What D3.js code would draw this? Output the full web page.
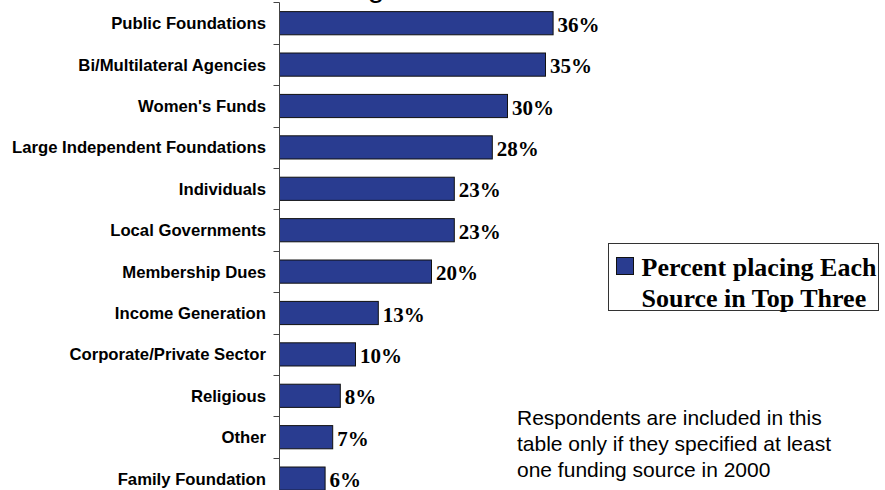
<!DOCTYPE html>
<html>
<head>
<meta charset="utf-8">
<script src="https://cdn.jsdelivr.net/npm/d3@7"></script>
<style>
  html, body { margin: 0; padding: 0; background: #ffffff; }
  svg { display: block; }
</style>
</head>
<body>
<svg id="chart" width="885" height="490"></svg>
<script>
// Funding sources, in ranked order
const categories = [
  "Public Foundations",
  "Bi/Multilateral Agencies",
  "Women's Funds",
  "Large Independent Foundations",
  "Individuals",
  "Local Governments",
  "Membership Dues",
  "Income Generation",
  "Corporate/Private Sector",
  "Religious",
  "Other",
  "Family Foundation"
];
// Percent of respondents placing each source in their top three
const values = [36, 35, 30, 28, 23, 23, 20, 13, 10, 8, 7, 6];
const seriesName = ["Percent placing Each", "Source in Top Three"];
const titleText = "Funding Sources";
const noteLines = [
  "Respondents are included in this",
  "table only if they specified at least",
  "one funding source in 2000"
];

const svg = d3.select("#chart");
const sans = "'Liberation Sans', Arial, Helvetica, sans-serif";
const serif = "'Liberation Serif', 'Times New Roman', Times, serif";
const barFill = "#293c90";

// Scales
const axisX = 279.5;
const x = d3.scaleLinear().domain([0, 100]).range([axisX, axisX + 760]);
const y = d3.scaleBand()
  .domain(categories)
  .range([2.5, 2.5 + 12 * 41.4])
  .paddingInner(0.44)
  .paddingOuter(0.22);
const gap = (y.step() - y.bandwidth()) / 2;

// Title (sits mostly above the visible area)
svg.append("text")
  .attr("x", 276)
  .attr("y", -3)
  .attr("font-family", sans)
  .attr("font-size", 30)
  .attr("fill", "#000")
  .text(titleText);

// Bars
svg.append("g").selectAll("rect")
  .data(categories)
  .join("rect")
  .attr("x", x(0))
  .attr("y", d => y(d))
  .attr("width", (d, i) => x(values[i]) - x(0))
  .attr("height", y.bandwidth())
  .attr("fill", barFill)
  .attr("stroke", "#111")
  .attr("stroke-width", 1);

// Value labels
svg.append("g").selectAll("text")
  .data(categories)
  .join("text")
  .attr("x", (d, i) => x(values[i]) + 4.5)
  .attr("y", d => y(d) + y.bandwidth() / 2 + 8.5)
  .attr("font-family", serif)
  .attr("font-weight", "bold")
  .attr("font-size", 21)
  .attr("fill", "#000")
  .text((d, i) => values[i] + "%");

// Category axis: vertical line with ticks between bands
const axis = svg.append("g").attr("stroke", "#444").attr("stroke-width", 1);
axis.append("line")
  .attr("x1", axisX).attr("x2", axisX)
  .attr("y1", y(categories[0]) - gap)
  .attr("y2", y(categories[categories.length - 1]) + y.bandwidth() + gap);
axis.selectAll("line.tick")
  .data(categories)
  .join("line")
  .attr("class", "tick")
  .attr("x1", axisX - 6).attr("x2", axisX)
  .attr("y1", d => Math.round(y(d) - gap) + 0.5)
  .attr("y2", d => Math.round(y(d) - gap) + 0.5);

// Category labels
svg.append("g").selectAll("text")
  .data(categories)
  .join("text")
  .attr("x", 266)
  .attr("y", d => y(d) + y.bandwidth() / 2 + 6)
  .attr("text-anchor", "end")
  .attr("font-family", sans)
  .attr("font-weight", "bold")
  .attr("font-size", 16.7)
  .attr("fill", "#000")
  .text(d => d);

// Legend
const legend = svg.append("g");
legend.append("rect")
  .attr("x", 608.5).attr("y", 243.5)
  .attr("width", 270).attr("height", 67)
  .attr("fill", "#fff")
  .attr("stroke", "#333")
  .attr("stroke-width", 1);
legend.append("rect")
  .attr("x", 616.5).attr("y", 257.5)
  .attr("width", 17).attr("height", 17)
  .attr("fill", barFill)
  .attr("stroke", "#111")
  .attr("stroke-width", 1);
legend.selectAll("text.item")
  .data(seriesName)
  .join("text")
  .attr("class", "item")
  .attr("x", 641.5)
  .attr("y", (d, i) => 276 + i * 31)
  .attr("font-family", serif)
  .attr("font-weight", "bold")
  .attr("font-size", 26)
  .attr("fill", "#000")
  .text(d => d);

// Footnote
svg.append("g").selectAll("text")
  .data(noteLines)
  .join("text")
  .attr("x", 517)
  .attr("y", (d, i) => 425 + i * 26)
  .attr("font-family", sans)
  .attr("font-size", 21)
  .attr("fill", "#000")
  .text(d => d);
</script>
</body>
</html>
